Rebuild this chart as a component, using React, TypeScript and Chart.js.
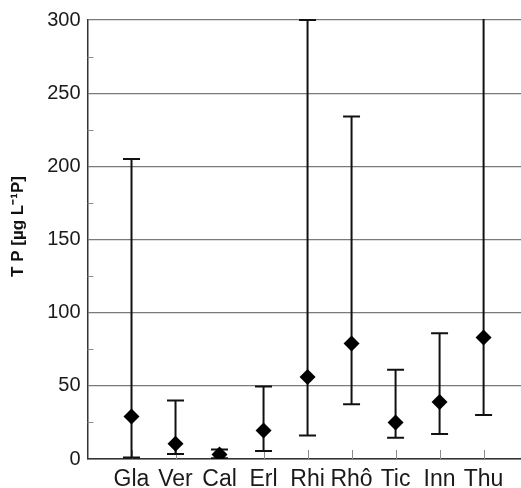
import React, { useEffect, useRef } from "react";
import { Chart, registerables } from "chart.js";

Chart.register(...registerables);

// Sites and total phosphorus statistics (mean with min–max range)
const categories = ["Gla", "Ver", "Cal", "Erl", "Rhi", "Rhô", "Tic", "Inn", "Thu"];
const meanTP = [29, 10.5, 3, 19.5, 56, 79, 25, 39, 83];
const lowTP = [1, 3.5, 0.5, 5.5, 16, 37.5, 14.5, 17, 30];
const highTP = [205, 40, 6.5, 49.5, 300, 234, 61, 86, 320];
const yTicks = [0, 50, 100, 150, 200, 250, 300];
const yMinorTicks = [25, 75, 125, 175, 225, 275];
const yTitle = "T P [µg L⁻¹P]";

const FONT = "'Liberation Sans', Arial, Helvetica, sans-serif";

// Whiskers with caps, plus inward tick marks, drawn beneath the diamonds
const errorBarPlugin = {
  id: "errorBars",
  beforeDatasetsDraw(chart: any) {
    const { ctx, chartArea, scales } = chart;
    const xs = scales.x;
    const ys = scales.y;
    ctx.save();

    // inward minor ticks on the value axis
    ctx.strokeStyle = "#8a8a8a";
    ctx.lineWidth = 1;
    yMinorTicks.forEach((v) => {
      const py = Math.round(ys.getPixelForValue(v)) + 0.5;
      ctx.beginPath();
      ctx.moveTo(chartArea.left, py);
      ctx.lineTo(chartArea.left + 6, py);
      ctx.stroke();
    });
    // inward ticks at each site
    categories.forEach((_, i) => {
      const px = Math.round(xs.getPixelForValue(i + 1)) + 0.5;
      ctx.beginPath();
      ctx.moveTo(px, chartArea.bottom);
      ctx.lineTo(px, chartArea.bottom - 9);
      ctx.stroke();
    });

    ctx.beginPath();
    ctx.rect(chartArea.left, chartArea.top - 1, chartArea.right - chartArea.left, chartArea.bottom - chartArea.top + 1);
    ctx.clip();
    ctx.strokeStyle = "#111";
    ctx.lineWidth = 2;
    const capHalf = 8.5;
    categories.forEach((_, i) => {
      const px = xs.getPixelForValue(i + 1);
      const pLow = ys.getPixelForValue(lowTP[i]);
      const pHigh = ys.getPixelForValue(highTP[i]);
      ctx.beginPath();
      ctx.moveTo(px, pLow);
      ctx.lineTo(px, pHigh);
      ctx.moveTo(px - capHalf, pLow);
      ctx.lineTo(px + capHalf, pLow);
      ctx.moveTo(px - capHalf, pHigh);
      ctx.lineTo(px + capHalf, pHigh);
      ctx.stroke();
    });
    ctx.restore();
  },
  afterDraw(chart: any) {
    const { ctx, chartArea } = chart;
    ctx.save();
    ctx.translate(18, (chartArea.top + chartArea.bottom) / 2 - 13);
    ctx.rotate(-Math.PI / 2);
    ctx.fillStyle = "#111";
    ctx.font = `bold 17px ${FONT}`;
    ctx.textAlign = "center";
    ctx.textBaseline = "middle";
    ctx.fillText(yTitle, 0, 0);
    ctx.restore();
  },
};

export default function App() {
  const canvasRef = useRef<HTMLCanvasElement | null>(null);

  useEffect(() => {
    if (!canvasRef.current) return;
    const chart = new Chart(canvasRef.current, {
      type: "scatter",
      data: {
        datasets: [
          {
            data: categories.map((_, i) => ({ x: i + 1, y: meanTP[i] })),
            pointStyle: "rectRot",
            pointRadius: 8,
            backgroundColor: "#000",
            borderColor: "#000",
            borderWidth: 0,
          },
        ],
      },
      options: {
        responsive: false,
        animation: false,
        layout: { autoPadding: false, padding: { top: 20, right: 0, left: 0, bottom: 0 } },
        plugins: {
          legend: { display: false },
          tooltip: { enabled: false },
        },
        scales: {
          x: {
            type: "linear",
            min: 0,
            max: 9.85,
            afterBuildTicks: (scale: any) => {
              scale.ticks = categories.map((_, i) => ({ value: i + 1 }));
            },
            afterFit: (scale: any) => {
              scale.height = 29;
              scale.paddingLeft = 0;
              scale.paddingRight = 0;
            },
            ticks: {
              autoSkip: false,
              maxRotation: 0,
              padding: 7,
              color: "#1a1a1a",
              font: { family: FONT, size: 23 },
              callback: (v: any) => categories[Number(v) - 1] ?? "",
            },
            grid: { display: false, drawTicks: false },
            border: { display: true, color: "#333", width: 1.5 },
          },
          y: {
            min: 0,
            max: 300,
            afterBuildTicks: (scale: any) => {
              scale.ticks = yTicks.map((v) => ({ value: v }));
            },
            afterFit: (scale: any) => {
              scale.width = 87.5;
            },
            ticks: {
              padding: 7,
              color: "#1a1a1a",
              font: { family: FONT, size: 20 },
            },
            grid: { color: "#7a7a7a", lineWidth: 1.2, drawTicks: false },
            border: { display: true, color: "#333", width: 1.5 },
          },
        },
      },
      plugins: [errorBarPlugin],
    });
    return () => chart.destroy();
  }, []);

  return (
    <div style={{ position: "fixed", left: 0, top: 0, width: 521, height: 488, background: "#fff" }}>
      <canvas ref={canvasRef} width={521} height={488} style={{ display: "block" }} />
    </div>
  );
}
